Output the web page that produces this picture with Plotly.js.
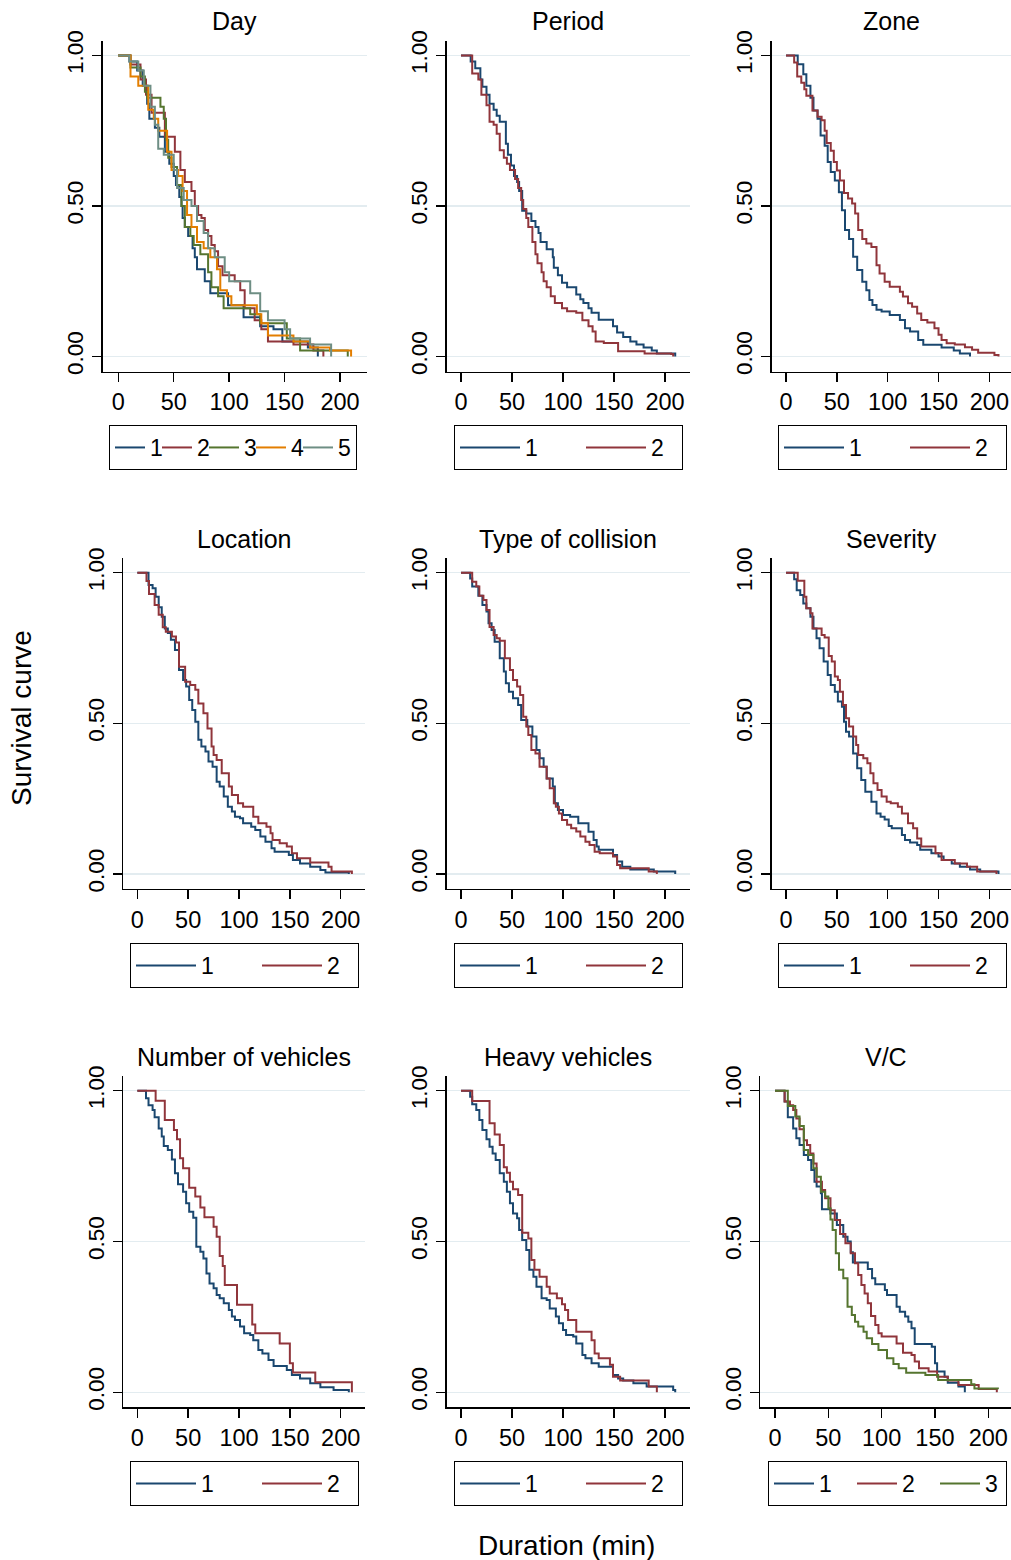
<!DOCTYPE html>
<html><head><meta charset="utf-8">
<script src="https://cdn.plot.ly/plotly-3.0.1.min.js"></script>
<style>body{margin:0;background:#fff}#chart{width:1011px;height:1560px}</style>
</head><body><div id="chart"></div>
<script>
// ---------- labels ----------
const panelTitles = ["Day","Period","Zone","Location","Type of collision","Severity","Number of vehicles","Heavy vehicles","V/C"];
const groupLabels = ["1","2","3","4","5"];
const xTickVals = [0,50,100,150,200];
const xTickText = ["0","50","100","150","200"];
const yTickVals = [0,0.5,1];
const yTickText = ["0.00","0.50","1.00"];
const xAxisTitle = "Duration (min)";
const yAxisTitle = "Survival curve";

// ---------- Kaplan-Meier step data (time, survival) ----------
const day1_t = [0,10,17,22,26,28,33,37,42,46,50,52,55,57,58,60,63,67,69,71,78,83,99,113,128,140,148,171,180];
const day1_s = [1,0.98,0.95,0.9,0.84,0.79,0.76,0.73,0.68,0.64,0.6,0.57,0.53,0.5,0.46,0.43,0.4,0.36,0.33,0.29,0.25,0.21,0.17,0.13,0.1,0.09,0.05,0.03,0];
const day2_t = [0,11,20,25,30,42,51,56,60,66,69,72,75,78,81,84,87,90,94,105,110,114,123,129,135,158,176,185];
const day2_s = [1,0.97,0.92,0.87,0.81,0.73,0.68,0.62,0.58,0.55,0.5,0.47,0.46,0.42,0.4,0.37,0.35,0.3,0.27,0.25,0.22,0.16,0.12,0.09,0.05,0.04,0.02,0];
const day3_t = [0,11,20,24,26,38,41,43,45,48,53,57,60,65,68,74,81,84,90,95,119,128,152,164,207];
const day3_s = [1,0.96,0.93,0.88,0.86,0.83,0.79,0.72,0.66,0.63,0.57,0.5,0.43,0.4,0.37,0.34,0.28,0.23,0.2,0.16,0.14,0.11,0.06,0.02,0];
const day4_t = [0,11,18,27,32,36,44,48,54,58,62,66,71,77,83,89,92,98,102,125,129,135,158,173,191,210];
const day4_s = [1,0.93,0.9,0.82,0.79,0.75,0.68,0.62,0.6,0.55,0.47,0.43,0.38,0.36,0.33,0.29,0.22,0.2,0.17,0.14,0.11,0.07,0.05,0.03,0.02,0];
const day5_t = [0,10,18,23,29,33,36,41,50,53,59,66,71,77,81,87,96,100,119,128,135,150,155,173,192];
const day5_s = [1,0.98,0.95,0.9,0.83,0.77,0.69,0.67,0.62,0.56,0.52,0.5,0.45,0.41,0.36,0.33,0.28,0.25,0.21,0.15,0.12,0.09,0.06,0.04,0];

const per1_t = [0,9.5,14,19,21,25,28,32,35,38,44,46,49,52,55,57,60,64,69,73,76,78,84,90,91,95,99,104,113,117,120,125,128,135,149,153,159,166,172,179,187,192,210];
const per1_s = [1,0.98,0.958,0.92,0.896,0.87,0.84,0.82,0.8,0.78,0.707,0.67,0.635,0.6,0.58,0.55,0.484,0.475,0.45,0.43,0.41,0.38,0.356,0.33,0.295,0.27,0.245,0.23,0.206,0.19,0.178,0.16,0.145,0.122,0.1,0.08,0.065,0.05,0.04,0.03,0.02,0.01,0];
const per2_t = [0,11,17,20,25,28,32,35,38,42,45,48,53,56,59,61,64,66,70,73,75,79,81,84,88,92,99,104,113,119,125,129,132,140,154,180,206,208];
const per2_s = [1,0.94,0.92,0.87,0.835,0.78,0.77,0.74,0.685,0.66,0.64,0.62,0.59,0.56,0.52,0.49,0.46,0.43,0.38,0.34,0.31,0.28,0.25,0.23,0.2,0.178,0.16,0.15,0.145,0.12,0.1,0.083,0.05,0.045,0.017,0.01,0.008,0];

const zone1_t = [0,11.5,17,20,24,27,31,34,38,41,44,48,52,55,58,62,66,70,75,79,82,85,89,94,102,112,117,122,130,135,153,165,171,181];
const zone1_s = [1,0.971,0.938,0.9,0.86,0.817,0.79,0.734,0.7,0.646,0.613,0.585,0.546,0.486,0.42,0.39,0.331,0.287,0.248,0.22,0.188,0.171,0.155,0.149,0.138,0.121,0.094,0.083,0.055,0.039,0.03,0.02,0.01,0];
const zone2_t = [0,8,11,15,18,20,26,31,35,38,40,44,47,50,53,57,61,65,68,71,75,79,84,89,92,97,102,112,115,120,124,129,133,139,146,150,153,158,166,176,183,189,205,209];
const zone2_s = [1,0.977,0.93,0.91,0.888,0.866,0.817,0.797,0.785,0.75,0.709,0.684,0.646,0.618,0.585,0.543,0.525,0.508,0.475,0.42,0.39,0.375,0.364,0.303,0.276,0.248,0.232,0.215,0.199,0.177,0.165,0.143,0.121,0.113,0.094,0.072,0.055,0.044,0.04,0.031,0.022,0.012,0.005,0];

const loc1_t = [0,11,15,18,21,24,27,30,33,37,41,45,48,51,54,57,60,63,67,70,74,78,81,85,89,93,96,101,104,112,116,121,126,132,135,149,153,160,170,180,185,208];
const loc1_s = [1,0.959,0.948,0.92,0.885,0.854,0.815,0.8,0.777,0.743,0.677,0.644,0.622,0.577,0.544,0.505,0.445,0.423,0.406,0.373,0.356,0.306,0.29,0.257,0.223,0.207,0.19,0.185,0.168,0.157,0.146,0.124,0.107,0.085,0.074,0.063,0.046,0.035,0.024,0.013,0.005,0];
const loc2_t = [0,9,11.5,17,21,25,28,34,38,41,47,52,57,60,65,69,73,75,78,83,90,93,99,104,114,119,127,131,133,140,147,152,157,170,188,191,211];
const loc2_s = [1,0.972,0.929,0.893,0.86,0.819,0.804,0.788,0.768,0.688,0.638,0.627,0.611,0.566,0.533,0.483,0.423,0.395,0.378,0.334,0.29,0.262,0.235,0.223,0.19,0.168,0.157,0.135,0.113,0.102,0.091,0.069,0.052,0.038,0.024,0.008,0];

const col1_t = [0,9,11,17,21,25,27,30,33,38,42,44,47,51,56,59,65,70,74,77,81,84,90,92,95,100,107,115,125,130,133,135,149,153,158,166,189,210];
const col1_s = [1,0.981,0.954,0.923,0.893,0.871,0.832,0.81,0.771,0.716,0.672,0.633,0.605,0.583,0.561,0.511,0.489,0.456,0.411,0.384,0.356,0.317,0.29,0.235,0.212,0.196,0.19,0.168,0.14,0.113,0.091,0.08,0.063,0.041,0.024,0.015,0.008,0];
const col2_t = [0,11,15,18,22,25,28,32,35,38,43,48,51,55,58,61,64,66,69,73,77,84,87,91,93,96,99,104,108,113,117,122,126,131,136,149,153,156,184,192];
const col2_s = [1,0.97,0.954,0.923,0.909,0.876,0.82,0.793,0.782,0.774,0.716,0.677,0.644,0.622,0.594,0.522,0.489,0.461,0.411,0.4,0.356,0.317,0.284,0.235,0.223,0.201,0.179,0.163,0.152,0.141,0.124,0.107,0.096,0.074,0.069,0.058,0.03,0.019,0.008,0];

const sev1_t = [0,8,10.5,14,17,20,24,27,30,33,37,41,44,48,51,55,57,59,62,66,70,74,78,84,89,93,97,101,104,114,117,122,129,132,143,150,155,163,171,181,191,209];
const sev1_s = [1,0.978,0.942,0.926,0.898,0.882,0.854,0.815,0.782,0.749,0.705,0.66,0.627,0.605,0.572,0.555,0.505,0.472,0.456,0.4,0.351,0.312,0.273,0.24,0.201,0.19,0.181,0.159,0.152,0.129,0.113,0.104,0.096,0.08,0.069,0.058,0.046,0.035,0.024,0.015,0.008,0];
const sev2_t = [0,11.5,18,20,24,26,35,38,42,45,48,51,53,56,59,62,66,69,71,76,80,83,86,90,94,99,103,110,114,120,125,129,133,147,153,166,178,188,207];
const sev2_s = [1,0.973,0.92,0.882,0.865,0.815,0.793,0.785,0.723,0.705,0.655,0.644,0.605,0.561,0.517,0.489,0.456,0.428,0.395,0.384,0.367,0.334,0.301,0.279,0.257,0.24,0.235,0.223,0.201,0.168,0.152,0.118,0.091,0.069,0.046,0.035,0.024,0.008,0];

const nv1_t = [0,8.5,11,15,17,21,24,26,30,34,37,40,45,48,51,55,58,62,65,68,71,75,78,81,85,90,93,96,101,105,111,114,119,123,129,134,147,152,160,170,180,193,208];
const nv1_s = [1,0.975,0.952,0.936,0.912,0.875,0.848,0.817,0.803,0.772,0.726,0.69,0.665,0.627,0.599,0.579,0.483,0.466,0.444,0.394,0.361,0.345,0.323,0.312,0.295,0.273,0.251,0.24,0.218,0.196,0.19,0.173,0.14,0.129,0.107,0.087,0.074,0.057,0.046,0.03,0.017,0.008,0];
const nv2_t = [0,18,27,36,39,42,45,51,57,62,66,75,78,81,84,86,98,113,116,140,150,153,175,211];
const nv2_s = [1,0.967,0.903,0.87,0.839,0.776,0.743,0.678,0.649,0.613,0.58,0.549,0.516,0.452,0.419,0.356,0.29,0.225,0.196,0.162,0.096,0.066,0.033,0];

const hv1_t = [0,9,11,15,18,21,25,28,31,34,38,42,45,48,51,55,57,60,64,67,71,74,79,84,87,93,96,100,103,110,113,119,122,128,135,149,154,159,169,182,208,210];
const hv1_s = [1,0.98,0.955,0.936,0.903,0.87,0.839,0.814,0.792,0.77,0.726,0.698,0.665,0.627,0.593,0.577,0.538,0.505,0.472,0.406,0.383,0.35,0.312,0.306,0.278,0.251,0.229,0.207,0.19,0.185,0.162,0.124,0.113,0.096,0.085,0.057,0.046,0.039,0.03,0.019,0.008,0];
const hv2_t = [0,11,28,33,38,42,45,48,51,56,60,66,69,72,77,84,87,94,99,102,105,113,128,131,135,146,149,156,184,192];
const hv2_s = [1,0.966,0.892,0.855,0.82,0.746,0.728,0.698,0.673,0.654,0.529,0.51,0.439,0.406,0.383,0.35,0.328,0.312,0.292,0.273,0.24,0.201,0.173,0.129,0.113,0.091,0.052,0.039,0.019,0];

const vc1_t = [0,9,12,17,20,23,27,31,34,37,39,43,44,52,58,64,68,71,73,87,91,94,103,105,114,117,122,125,128,131,147,150,152,159,162,172,178];
const vc1_s = [1,0.964,0.912,0.875,0.842,0.82,0.787,0.77,0.737,0.698,0.682,0.66,0.607,0.593,0.555,0.516,0.5,0.464,0.43,0.409,0.378,0.358,0.339,0.323,0.284,0.267,0.251,0.234,0.212,0.16,0.151,0.096,0.069,0.052,0.032,0.019,0];
const vc2_t = [0,9,14,17,20,23,27,30,33,36,39,44,47,52,56,61,66,71,75,78,81,84,87,90,94,97,100,114,120,128,131,135,144,152,162,172,191,208];
const vc2_s = [1,0.964,0.952,0.936,0.908,0.872,0.836,0.82,0.792,0.759,0.698,0.671,0.643,0.604,0.571,0.525,0.494,0.461,0.428,0.389,0.356,0.328,0.295,0.253,0.223,0.196,0.185,0.162,0.131,0.124,0.102,0.08,0.069,0.052,0.039,0.024,0.011,0];
const vc3_t = [0,12,19,23,27,31,36,39,43,47,50,52,54,57,60,64,68,72,75,78,83,86,91,97,105,111,116,123,141,153,184,187,209];
const vc3_s = [1,0.949,0.914,0.883,0.803,0.787,0.743,0.715,0.665,0.649,0.61,0.573,0.538,0.461,0.406,0.378,0.284,0.256,0.234,0.218,0.201,0.179,0.16,0.14,0.113,0.094,0.08,0.065,0.057,0.041,0.027,0.013,0.01];

// ---------- styling / layout (pixels of the 1011x1560 page) ----------
const W = 1011, H = 1560;
const palette = ['#1a476f','#90353b','#55752f','#e37e00','#6e8e84'];
const FONT = 'Liberation Sans, Arial, Helvetica, sans-serif';

const panels = [
  {curves:[[day1_t,day1_s],[day2_t,day2_s],[day3_t,day3_s],[day4_t,day4_s],[day5_t,day5_s]], xd:[102.8,366.6], yd:[40.5,371.5], xr:[-14,224], leg:[109,425], iw:30, lw:[2,2,2,2,13]},
  {curves:[[per1_t,per1_s],[per2_t,per2_s]], xd:[446.7,689.5], yd:[40.5,371.5], xr:[-14,224], leg:[454,425], iw:60, lw:[51,26]},
  {curves:[[zone1_t,zone1_s],[zone2_t,zone2_s]], xd:[771.8,1011], yd:[40.5,371.5], xr:[-14,221.3], leg:[778,425], iw:60, lw:[51,26]},
  {curves:[[loc1_t,loc1_s],[loc2_t,loc2_s]], xd:[123.1,365.1], yd:[557.6,889], xr:[-14,224], leg:[130,943], iw:60, lw:[51,26]},
  {curves:[[col1_t,col1_s],[col2_t,col2_s]], xd:[446.7,689.5], yd:[557.6,889], xr:[-14,224], leg:[454,943], iw:60, lw:[51,26]},
  {curves:[[sev1_t,sev1_s],[sev2_t,sev2_s]], xd:[771.8,1011], yd:[557.6,889], xr:[-14,221.3], leg:[778,943], iw:60, lw:[51,26]},
  {curves:[[nv1_t,nv1_s],[nv2_t,nv2_s]], xd:[123.1,365.1], yd:[1075.6,1407.4], xr:[-14,224], leg:[130,1461], iw:60, lw:[51,26]},
  {curves:[[hv1_t,hv1_s],[hv2_t,hv2_s]], xd:[446.7,689.5], yd:[1075.6,1407.4], xr:[-14,224], leg:[454,1461], iw:60, lw:[51,26]},
  {curves:[[vc1_t,vc1_s],[vc2_t,vc2_s],[vc3_t,vc3_s]], xd:[760.1,1011], yd:[1075.6,1407.4], xr:[-14,221.3], leg:[768,1461], iw:40, lw:[28,28,16]}
];

const traces = [];
const layout = {
  width: W, height: H,
  margin: {l:0, r:0, t:0, b:0},
  paper_bgcolor: '#fff', plot_bgcolor: '#fff',
  font: {family: FONT, size: 23, color: '#000'},
  showlegend: true,
  annotations: [],
  hovermode: false
};

panels.forEach((p, i) => {
  const n = i + 1;
  const xa = n === 1 ? 'x' : 'x' + n;
  const ya = n === 1 ? 'y' : 'y' + n;
  const legId = n === 1 ? 'legend' : 'legend' + n;
  p.curves.forEach((c, j) => {
    traces.push({
      type: 'scatter', mode: 'lines',
      x: c[0], y: c[1],
      line: {shape: 'hv', color: palette[j], width: 2},
      name: groupLabels[j],
      xaxis: xa, yaxis: ya,
      legend: legId,
      legendwidth: p.lw[j],
      showlegend: true
    });
  });
  layout['xaxis' + (n === 1 ? '' : n)] = {
    domain: [p.xd[0] / W, p.xd[1] / W],
    anchor: ya, range: p.xr, fixedrange: true,
    tickvals: xTickVals, ticktext: xTickText,
    ticks: 'outside', ticklen: 9, tickwidth: 1.4, tickcolor: '#000',
    showline: true, linecolor: '#000', linewidth: 1.4,
    showgrid: false, zeroline: false,
    tickfont: {size: 23.5, family: FONT, color: '#000'}
  };
  layout['yaxis' + (n === 1 ? '' : n)] = {
    domain: [1 - p.yd[1] / H, 1 - p.yd[0] / H],
    anchor: xa, range: [-0.05, 1.05], fixedrange: true,
    tickvals: yTickVals, ticktext: yTickText, tickangle: -90,
    ticks: 'outside', ticklen: 9, tickwidth: 1.4, tickcolor: '#000',
    showline: true, linecolor: '#000', linewidth: 1.4,
    showgrid: true, gridcolor: '#e3ecf0', gridwidth: 1.5, zeroline: false,
    tickfont: {size: 22.5, family: FONT, color: '#000'}
  };
  layout[legId] = {
    x: p.leg[0] / W, y: 1 - p.leg[1] / H, xanchor: 'left', yanchor: 'top',
    xref: 'paper', yref: 'paper',
    orientation: 'h', bgcolor: '#fff', bordercolor: '#000', borderwidth: 1,
    font: {size: 23, family: FONT, color: '#000'},
    itemwidth: p.iw, itemclick: false, itemdoubleclick: false,
    traceorder: 'normal', valign: 'middle'
  };
  layout.annotations.push({
    text: panelTitles[i], xref: 'paper', yref: 'paper',
    x: (p.xd[0] + p.xd[1]) / 2 / W, y: 1 - (p.yd[0] - 19) / H,
    xanchor: 'center', yanchor: 'middle', showarrow: false,
    font: {size: 25, family: FONT, color: '#000'}
  });
});

layout.annotations.push({
  text: yAxisTitle, xref: 'paper', yref: 'paper', x: 22 / W, y: 1 - 718 / H,
  xanchor: 'center', yanchor: 'middle', textangle: -90, showarrow: false,
  font: {size: 28, family: FONT, color: '#000'}
});
layout.annotations.push({
  text: xAxisTitle, xref: 'paper', yref: 'paper', x: 566 / W, y: 1 - 1545 / H,
  xanchor: 'center', yanchor: 'middle', showarrow: false,
  font: {size: 28, family: FONT, color: '#000'}
});

Plotly.newPlot('chart', traces, layout, {displayModeBar: false, staticPlot: true});
</script>
</body></html>
